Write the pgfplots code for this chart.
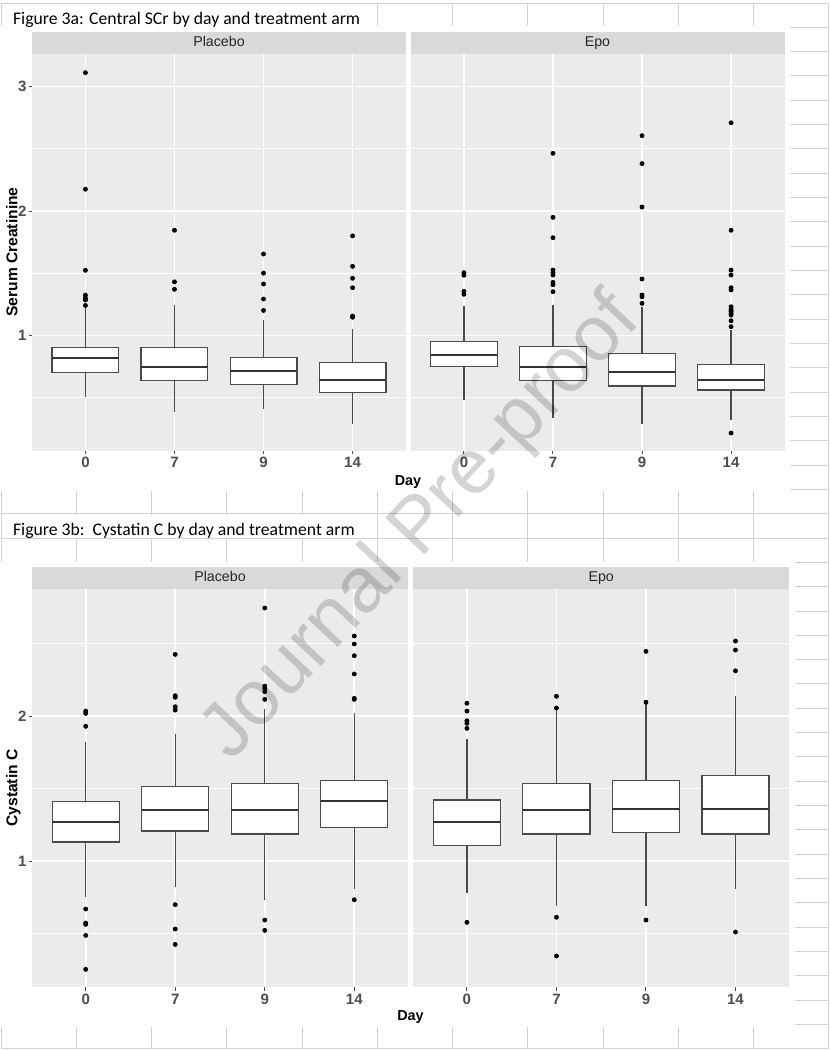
\documentclass[border=0pt]{standalone}
\usepackage{fontspec}
\setmainfont{Liberation Sans}
\newfontfamily\calibri{Carlito}
\usepackage{pgfplots}
\pgfplotsset{compat=1.18}
\usepgfplotslibrary{statistics}

\definecolor{panelgrey}{HTML}{EBEBEB}
\definecolor{stripgrey}{HTML}{D9D9D9}
\definecolor{ticktext}{HTML}{4D4D4D}
\definecolor{boxgrey}{HTML}{4A4A4A}
\definecolor{medgrey}{HTML}{333333}
\definecolor{sheetline}{HTML}{D2D2D2}

\pgfplotsset{
  ggpanel/.style={
    scale only axis, anchor=south west,
    xmin=0.4, xmax=4.6,
    xtick={1,2,3,4}, xticklabels={0,7,9,14},
    minor xtick={},
    axis background/.style={fill=panelgrey},
    axis line style={draw=none},
    grid=both,
    major grid style={white, line width=0.8pt},
    minor grid style={white, line width=0.4pt},
    tick align=outside, major tick length=1.6pt, minor tick length=0pt,
    xtick style={draw=ticktext, line width=0.5pt},
    ytick style={draw=ticktext, line width=0.5pt},
    xtick pos=bottom, ytick pos=left,
    tick label style={font=\fontsize{7.5}{8}\selectfont\bfseries, text=ticktext},
    xticklabel style={inner sep=1.5pt},
    yticklabel style={inner sep=1pt},
    /pgf/number format/assume math mode=true,
    every axis title shift=0pt,
    title style={at={(0.5,1)}, anchor=south, fill=stripgrey, inner sep=0pt,
      minimum height=11pt, text height=5.2pt, text depth=1.4pt,
      text=black!85, font=\fontsize{7.1}{8}\selectfont},
    boxplot/draw direction=y,
    boxplot/box extend=0.75,
    boxplot/whisker extend=0,
    boxplot/every box/.style={draw=boxgrey, fill=white, line width=0.6pt},
    boxplot/every whisker/.style={draw=boxgrey, line width=0.6pt},
    boxplot/every median/.style={draw=medgrey, line width=1.1pt},
  },
  noyaxis/.style={yticklabel={\mbox{}}, ytick style={draw=none}},
  ggbox/.style={draw=boxgrey, line width=0.6pt, boxplot prepared={#1}},
  outl/.style={only marks, mark=*, mark size=1pt, black},
}

\begin{document}
\begin{tikzpicture}
\path[use as bounding box] (0,0) rectangle (415pt,-525pt);

% spreadsheet grid behind the pasted figures (pixel units)
\begin{scope}[x=0.5pt, y=-0.5pt]
  \fill[white] (0,0) rectangle (830,1050);
  \foreach \k in {0,...,43} \draw[sheetline, line width=0.5pt] (1,{3+24.32*\k}) -- (828.6,{3+24.32*\k});
  \foreach \j in {0,...,11} \draw[sheetline, line width=0.5pt] ({1+75.26*\j},3) -- ({1+75.26*\j},1048.8);
  \fill[white] (0,26) rectangle (790,491);
  \fill[white] (0,561.5) rectangle (795,1027.2);
  \fill[white] (2,4) rectangle (372,26);
  \fill[white] (2,514.5) rectangle (372,537.5);
  \node[anchor=base west, inner sep=0pt, font=\calibri\fontsize{8.85}{10}\selectfont] at (12.7,24)
    {Figure 3a: Central SCr by day and treatment arm};
  \node[anchor=base west, inner sep=0pt, font=\calibri\fontsize{8.85}{10}\selectfont] at (12.7,535)
    {Figure 3b:\ \ Cystatin C by day and treatment arm};
\end{scope}

% ---------------- Figure 3a : Placebo
\begin{axis}[ggpanel, at={(16pt,-225.35pt)}, width=187pt, height=198.35pt,
  title=Placebo, title style={minimum width=187pt},
  ymin=0.0718, ymax=3.263, ytick={1,2,3}, minor ytick={0.5,1.5,2.5}]
\addplot[ggbox={draw position=1, lower whisker=0.50, lower quartile=0.70, median=0.815, upper quartile=0.903, upper whisker=1.22}] coordinates {};
\addplot[ggbox={draw position=2, lower whisker=0.38, lower quartile=0.638, median=0.745, upper quartile=0.903, upper whisker=1.24}] coordinates {};
\addplot[ggbox={draw position=3, lower whisker=0.407, lower quartile=0.603, median=0.713, upper quartile=0.823, upper whisker=1.123}] coordinates {};
\addplot[ggbox={draw position=4, lower whisker=0.286, lower quartile=0.541, median=0.643, upper quartile=0.78, upper whisker=1.053}] coordinates {};
\addplot[outl] coordinates {(1,1.24)(1,1.284)(1,1.30)(1,1.324)(1,1.523)(1,2.175)(1,3.113)
  (2,1.37)(2,1.43)(2,1.845)
  (3,1.20)(3,1.292)(3,1.413)(3,1.50)(3,1.654)
  (4,1.145)(4,1.155)(4,1.383)(4,1.459)(4,1.555)(4,1.80)};
\end{axis}

% ---------------- Figure 3a : Epo
\begin{axis}[ggpanel, noyaxis, at={(205.25pt,-225.35pt)}, width=187pt, height=198.35pt,
  title=Epo, title style={minimum width=187pt},
  ymin=0.0718, ymax=3.263, ytick={1,2,3}, minor ytick={0.5,1.5,2.5}]
\addplot[ggbox={draw position=1, lower whisker=0.477, lower quartile=0.75, median=0.842, upper quartile=0.952, upper whisker=1.238}] coordinates {};
\addplot[ggbox={draw position=2, lower whisker=0.337, lower quartile=0.638, median=0.745, upper quartile=0.908, upper whisker=1.24}] coordinates {};
\addplot[ggbox={draw position=3, lower whisker=0.284, lower quartile=0.592, median=0.707, upper quartile=0.852, upper whisker=1.225}] coordinates {};
\addplot[ggbox={draw position=4, lower whisker=0.319, lower quartile=0.56, median=0.643, upper quartile=0.764, upper whisker=1.043}] coordinates {};
\addplot[outl] coordinates {(1,1.33)(1,1.354)(1,1.483)(1,1.504)
  (2,1.351)(2,1.407)(2,1.426)(2,1.485)(2,1.504)(2,1.525)(2,1.785)(2,1.949)(2,2.464)
  (3,1.257)(3,1.31)(3,1.324)(3,1.453)(3,2.032)(3,2.381)(3,2.606)
  (4,0.214)(4,1.07)(4,1.117)(4,1.163)(4,1.175)(4,1.19)(4,1.2)(4,1.21)(4,1.23)
  (4,1.365)(4,1.383)(4,1.485)(4,1.525)(4,1.845)(4,2.71)};
\end{axis}

% ---------------- Figure 3b : Placebo
\begin{axis}[ggpanel, at={(16pt,-493.65pt)}, width=188pt, height=199pt,
  title=Placebo, title style={minimum width=188pt},
  ymin=0.129, ymax=2.874, ytick={1,2}, minor ytick={0.5,1.5,2.5}]
\addplot[ggbox={draw position=1, lower whisker=0.754, lower quartile=1.131, median=1.271, upper quartile=1.409, upper whisker=1.819}] coordinates {};
\addplot[ggbox={draw position=2, lower whisker=0.818, lower quartile=1.207, median=1.352, upper quartile=1.515, upper whisker=1.876}] coordinates {};
\addplot[ggbox={draw position=3, lower whisker=0.733, lower quartile=1.186, median=1.352, upper quartile=1.536, upper whisker=2.046}] coordinates {};
\addplot[ggbox={draw position=4, lower whisker=0.809, lower quartile=1.232, median=1.414, upper quartile=1.556, upper whisker=2.018}] coordinates {};
\addplot[outl] coordinates {(1,0.253)(1,0.487)(1,0.563)(1,0.572)(1,0.669)(1,1.929)(1,2.018)(1,2.034)
  (2,0.425)(2,0.531)(2,0.699)(2,2.041)(2,2.064)(2,2.129)(2,2.14)(2,2.425)
  (3,0.522)(3,0.593)(3,2.115)(3,2.168)(3,2.191)(3,2.207)(3,2.745)
  (4,0.733)(4,2.115)(4,2.122)(4,2.29)(4,2.416)(4,2.497)(4,2.552)};
\end{axis}

% ---------------- Figure 3b : Epo
\begin{axis}[ggpanel, noyaxis, at={(206.6pt,-493.65pt)}, width=188pt, height=199pt,
  title=Epo, title style={minimum width=188pt},
  ymin=0.129, ymax=2.874, ytick={1,2}, minor ytick={0.5,1.5,2.5}]
\addplot[ggbox={draw position=1, lower whisker=0.781, lower quartile=1.108, median=1.271, upper quartile=1.421, upper whisker=1.839}] coordinates {};
\addplot[ggbox={draw position=2, lower whisker=0.69, lower quartile=1.186, median=1.352, upper quartile=1.536, upper whisker=2.055}] coordinates {};
\addplot[ggbox={draw position=3, lower whisker=0.69, lower quartile=1.198, median=1.361, upper quartile=1.554, upper whisker=2.095}] coordinates {};
\addplot[ggbox={draw position=4, lower whisker=0.805, lower quartile=1.186, median=1.361, upper quartile=1.589, upper whisker=2.136}] coordinates {};
\addplot[outl] coordinates {(1,0.577)(1,1.915)(1,1.95)(1,1.968)(1,2.034)(1,2.088)
  (2,0.345)(2,0.612)(2,2.055)(2,2.136)
  (3,0.593)(3,2.095)(3,2.446)
  (4,0.51)(4,2.312)(4,2.455)(4,2.517)};
\end{axis}

% axis titles and watermark (pixel units)
\begin{scope}[x=0.5pt, y=-0.5pt]
  \node[anchor=base, inner sep=0pt, font=\fontsize{7.2}{8}\selectfont\bfseries] at (408,485) {Day};
  \node[anchor=base, inner sep=0pt, font=\fontsize{7.2}{8}\selectfont\bfseries] at (410.5,1020) {Day};
  \node[anchor=base, rotate=90, inner sep=0pt, font=\fontsize{7.8}{9}\selectfont\bfseries] at (17.5,252) {Serum Creatinine};
  \node[anchor=base, rotate=90, inner sep=0pt, font=\fontsize{7.8}{9}\selectfont\bfseries] at (17.5,788) {Cystatin C};
  \node[rotate=47, opacity=0.17, text=black, font=\fontsize{39}{40}\selectfont] at (422,528) {Journal Pre-proof};
\end{scope}
\end{tikzpicture}
\end{document}
